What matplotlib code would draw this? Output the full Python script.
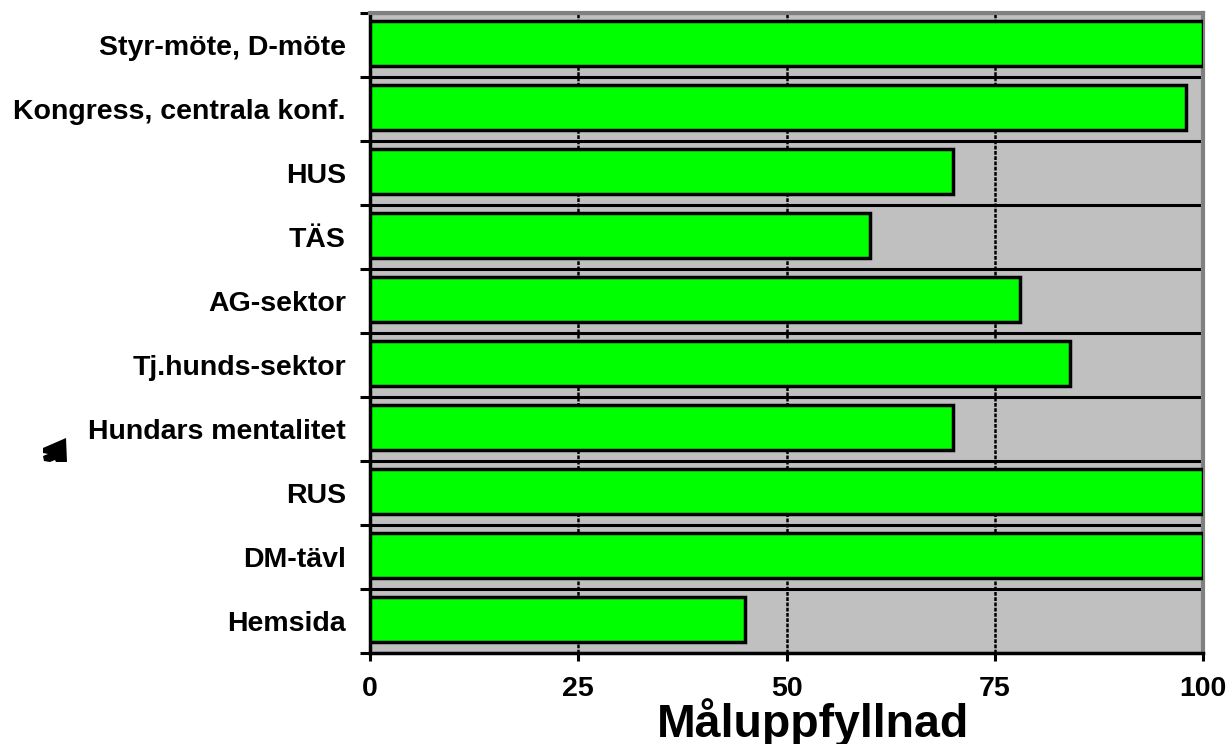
#!/usr/bin/env python3
import matplotlib
matplotlib.use('Agg')
import matplotlib.pyplot as plt
from matplotlib.patches import Polygon

# bottom to top, as barh draws them
categories = ['Hemsida', 'DM-tävl', 'RUS', 'Hundars mentalitet', 'Tj.hunds-sektor',
              'AG-sektor', 'TÄS', 'HUS', 'Kongress, centrala konf.', 'Styr-möte, D-möte']
values = [45, 100, 100, 70, 84, 78, 60, 70, 98, 100]
xticks = [0, 25, 50, 75, 100]

plt.rcParams['font.family'] = ['Liberation Sans', 'DejaVu Sans']

fig = plt.figure(figsize=(12.30, 7.44), dpi=100)
ax = fig.add_axes([370 / 1230, 1 - 653 / 744, (1203 - 370) / 1230, (653 - 13) / 744])
ax.set_facecolor('#c0c0c0')

# the bars sit a touch above the middle of each band in the original
ypos = [i + 0.025 for i in range(len(categories))]
ax.barh(ypos, values, height=0.70, color='#00ff00',
        edgecolor='black', linewidth=2.5, zorder=3)

ax.set_xlim(0, 100)
ax.set_ylim(-0.5, len(categories) - 0.5)

# gridlines: dashed verticals, solid separators between the categories
ax.set_xticks(xticks)
ax.set_xticklabels([str(t) for t in xticks], fontsize=20.5, fontweight='bold')
ax.xaxis.grid(True, color='black', linestyle=(0, (1.5, 0.6)), linewidth=1.8, zorder=1)
ax.set_yticks([i - 0.5 for i in range(len(categories) + 1)], minor=False)
ax.set_yticklabels([])
ax.yaxis.grid(True, color='black', linewidth=2.2, zorder=1)
ax.set_axisbelow(True)
ax.tick_params(axis='y', length=7, width=2.2, color='black')
ax.tick_params(axis='x', length=5.5, width=2.2, color='black', pad=10.8)

for i, name in enumerate(categories):
    ax.text(-2.9, i - 0.04, name, ha='right', va='center', fontsize=20.5, fontweight='bold')

for side in ['left', 'bottom']:
    ax.spines[side].set_linewidth(2.5)
ax.spines['top'].set_color('#808080')
ax.spines['right'].set_color('#808080')
ax.spines['top'].set_linewidth(3)
ax.spines['right'].set_linewidth(3)

# baseline sits close to the bottom edge, descenders run off the picture as in the original
fig.text(813 / 1230, 1 - 737 / 744, 'Måluppfyllnad', ha='center', va='baseline',
         fontsize=33.5, fontweight='bold')

# small black smudge left of the labels
smudge = [(43, 448), (66, 438), (67, 462), (56, 462), (55, 460), (50, 462), (44, 461),
          (43, 456), (48, 454), (43, 453)]
fig.add_artist(Polygon([(x / 1230, 1 - y / 744) for x, y in smudge], closed=True,
                       transform=fig.transFigure, facecolor='black', edgecolor='none'))

fig.savefig('out.png', dpi=100)
